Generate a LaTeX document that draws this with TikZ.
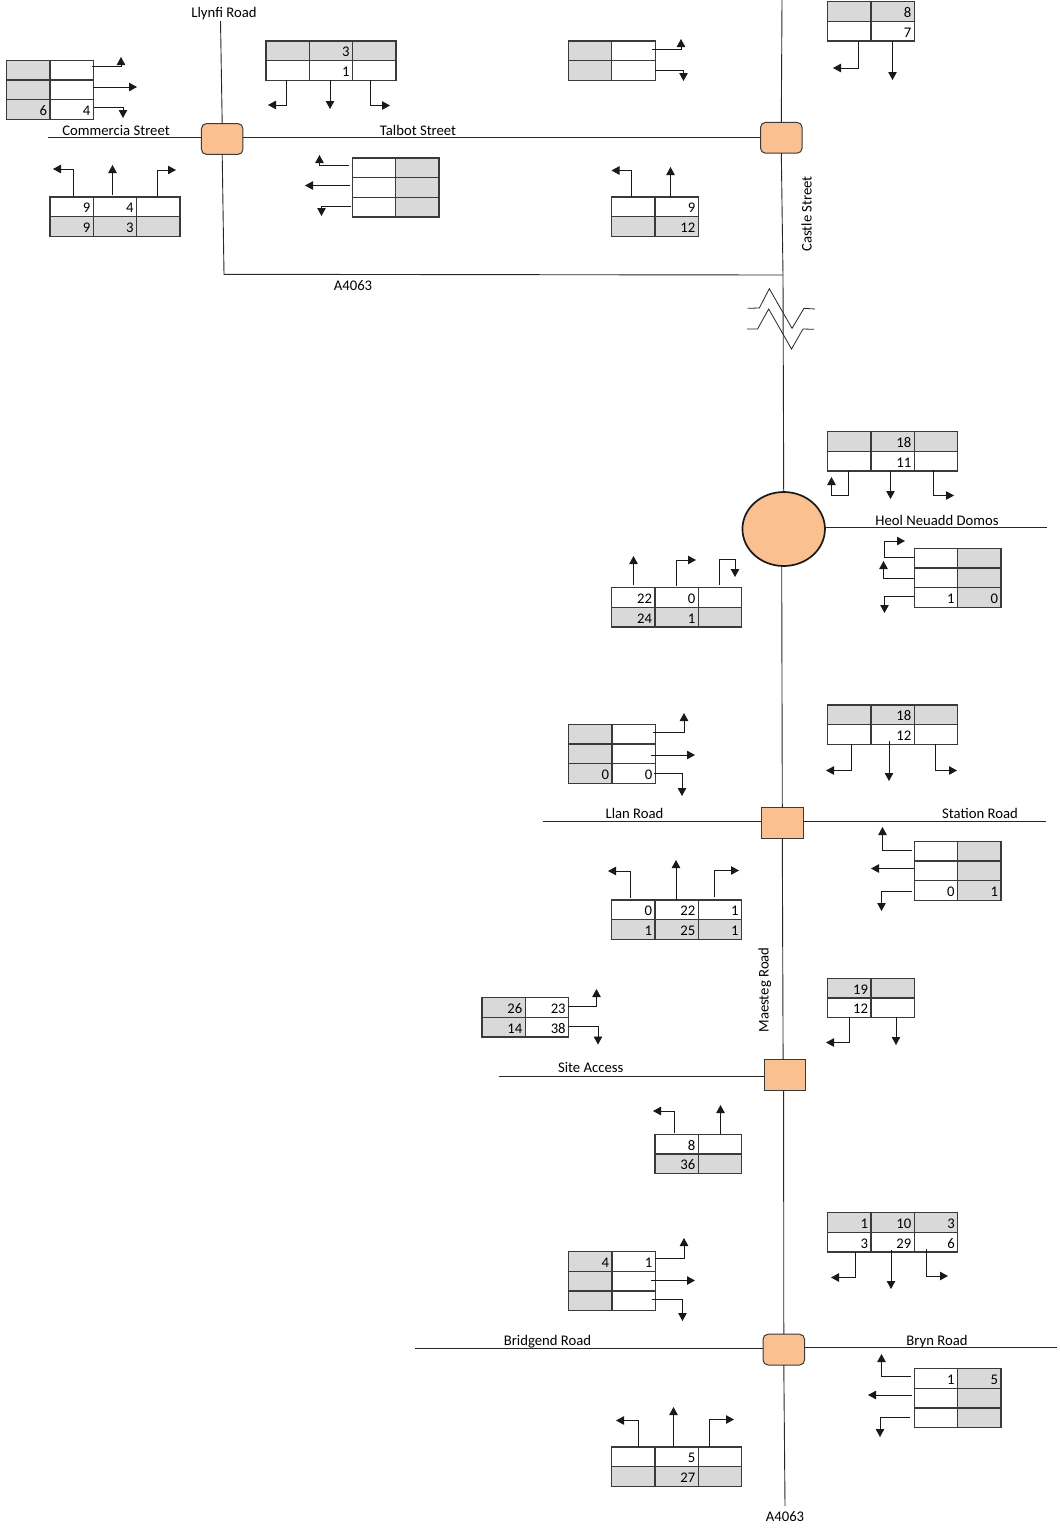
\documentclass[tikz,border=0pt]{standalone}
\usepackage{fontspec}
\setmainfont{Carlito}
\usetikzlibrary{arrows.meta,shapes.geometric}
\definecolor{cellgray}{HTML}{D9D9D9}
\definecolor{junc}{HTML}{FAC090}
\definecolor{edge}{HTML}{3A3A3A}
\colorlet{g}{cellgray}
\colorlet{w}{white}
\tikzset{
  road/.style={draw=black!85,line width=0.9pt},
  turnline/.style={draw=black!90,line width=0.9pt,-{Triangle[length=8pt,width=8.5pt]}},
  junction/.style={draw=edge,fill=junc,line width=1pt,minimum width=41.5pt,minimum height=30.8pt,inner sep=0pt,outer sep=0pt},
  rjunction/.style={junction,rounded corners=5pt},
  cellbox/.style={draw=edge,line width=1.25pt,anchor=north west,minimum width=43.33pt,minimum height=19.67pt,
     inner xsep=3pt,inner ysep=0pt,outer sep=0pt,text width=37.33pt,align=right,text height=12pt,text depth=0pt},
  lbl/.style={inner sep=0pt,outer sep=0pt,text height=10pt,text depth=3pt,font=\fontsize{14.7}{16}\selectfont},
}
\newcommand{\tbl}[4]{%
  \foreach \c/\r/\f/\t in {#4} {%
    \node[cellbox,fill=\f,font=\fontsize{14.7}{16}\selectfont] (#1-\c-\r) at ({#2+\c*43.33},{#3+\r*19.67}) {\t};
  }}
% arrows: named start and end coordinates
\newcommand{\arrS}[3]{\coordinate (#1s) at (#2);\coordinate (#1e) at (#3);\draw[turnline] (#1s) -- (#1e);}
\newcommand{\arrHV}[3]{\coordinate (#1s) at (#2);\coordinate (#1e) at (#3);\draw[turnline] (#1s) -| (#1e);}
\newcommand{\arrVH}[3]{\coordinate (#1s) at (#2);\coordinate (#1e) at (#3);\draw[turnline] (#1s) |- (#1e);}
\begin{document}
\begin{tikzpicture}[x=1pt,y=-1pt]
\useasboundingbox (0,0) rectangle (1060,1529);
% junctions
\node[rjunction] (j1) at (222.2,139) {};
\node[rjunction] (j2) at (781.3,137.8) {};
\node[ellipse,draw=black!90,fill=junc,line width=1.7pt,minimum width=82.5pt,minimum height=74pt,inner sep=0pt,outer sep=0pt] (j3) at (783.7,529) {};
\node[junction] (j4) at (782.3,823.3) {};
\node[junction] (j5) at (785.1,1075.2) {};
\node[rjunction] (j6) at (783.8,1349.6) {};
% free road ends
\coordinate (llynfi) at (220.5,21);
\coordinate (comm) at (48,137);
\coordinate (castletop) at (782,0);
\coordinate (corA) at (224,274.3);
\coordinate (corB) at (783,275);
\coordinate (heol) at (1047,527.5);
\coordinate (llan) at (543,821);
\coordinate (station) at (1046,821);
\coordinate (site) at (498.7,1076);
\coordinate (bridgend) at (415,1348);
\coordinate (bryn) at (1057,1347);
\coordinate (aend) at (785,1506);
% roads
\draw[road] (llynfi) -- (j1.north);
\draw[road] (comm) -- (j1.west |- comm);
\draw[road] (j1.east |- 0,137.5) -- (j2.west |- 0,137.5);
\draw[road] (castletop) -- (j2.north);
\draw[road] (j1.south) -- (corA) -- (corB);
\draw[road] (j2.south) -- (corB) -- (j3.north);
\draw[road] (j3.east |- heol) -- (heol);
\draw[road] (j3.south) ++(-2,0) -- (j4.north);
\draw[road] (llan) -- (j4.west |- llan);
\draw[road] (j4.east |- station) -- (station);
\draw[road] (j4.south) -- ([xshift=-2pt]j5.north);
\draw[road] (site) -- (j5.west |- site);
\draw[road] ([xshift=-1.5pt]j5.south) -- (j6.north);
\draw[road] (bridgend) -- (j6.west |- bridgend);
\draw[road] (j6.east |- bryn) -- (bryn);
\draw[road] (j6.south) -- (aend);
% road break symbol
\draw[line width=0.8pt,draw=black!85] (747.7,308.3) -- (759.3,308) -- (769.3,288.7) -- (792,328.3) -- (804,308.3) -- (815,309);
\draw[line width=0.8pt,draw=black!85] (747,329) -- (757.5,329) -- (768.7,309) -- (791.5,349) -- (803,329) -- (814,329.3);
% labels
\node[lbl] (l1) at (224,14) {Llynfi Road};
\node[lbl] (l2) at (116,131.5) {Commercia Street};
\node[lbl] (l3) at (418,131.5) {Talbot Street};
\node[lbl] (l4) at (353,287.3) {A4063};
\node[lbl,rotate=90] (l5) at (808,214) {Castle Street};
\node[lbl] (l6) at (937,521.5) {Heol Neuadd Domos};
\node[lbl] (l7) at (634.5,814.5) {Llan Road};
\node[lbl] (l8) at (980,814.5) {Station Road};
\node[lbl,rotate=90] (l9) at (765,990) {Maesteg Road};
\node[lbl] (l10) at (590.7,1068.5) {Site Access};
\node[lbl] (l11) at (547.5,1341.5) {Bridgend Road};
\node[lbl] (l12) at (937,1341.5) {Bryn Road};
\node[lbl] (l13) at (785,1517.5) {A4063};
% tables
\tbl{t1}{6.7}{60.3}{0/0/g/,1/0/w/,0/1/g/,1/1/w/,0/2/g/6,1/2/w/4}
\tbl{t2}{266}{41}{0/0/g/,1/0/g/3,2/0/g/,0/1/w/,1/1/w/1,2/1/w/}
\tbl{t3}{50}{197}{0/0/w/9,1/0/w/4,2/0/w/,0/1/g/9,1/1/g/3,2/1/g/}
\tbl{t4}{352.3}{158}{0/0/w/,1/0/g/,0/1/w/,1/1/g/,0/2/w/,1/2/g/}
\tbl{t5}{568.5}{41}{0/0/g/,1/0/w/,0/1/g/,1/1/w/}
\tbl{t6}{827.7}{1.6}{0/0/g/,1/0/g/8,0/1/w/,1/1/w/7}
\tbl{t7}{611.7}{197}{0/0/w/,1/0/w/9,0/1/g/,1/1/g/12}
\tbl{t8}{827.7}{431.6}{0/0/g/,1/0/g/18,2/0/g/,0/1/w/,1/1/w/11,2/1/w/}
\tbl{t9}{914.3}{548.3}{0/0/w/,1/0/g/,0/1/w/,1/1/g/,0/2/w/1,1/2/g/0}
\tbl{t10}{611.7}{587.7}{0/0/w/22,1/0/w/0,2/0/w/,0/1/g/24,1/1/g/1,2/1/g/}
\tbl{t11}{568.7}{724.3}{0/0/g/,1/0/w/,0/1/g/,1/1/w/,0/2/g/0,1/2/w/0}
\tbl{t12}{827.7}{705}{0/0/g/,1/0/g/18,2/0/g/,0/1/w/,1/1/w/12,2/1/w/}
\tbl{t13}{914.3}{841.3}{0/0/w/,1/0/g/,0/1/w/,1/1/g/,0/2/w/0,1/2/g/1}
\tbl{t14}{611.7}{900}{0/0/w/0,1/0/w/22,2/0/w/1,0/1/g/1,1/1/g/25,2/1/g/1}
\tbl{t15}{482}{997.7}{0/0/g/26,1/0/w/23,0/1/g/14,1/1/w/38}
\tbl{t16}{827.7}{978.3}{0/0/g/19,1/0/g/,0/1/w/12,1/1/w/}
\tbl{t17}{655}{1134.3}{0/0/w/8,1/0/w/,0/1/g/36,1/1/g/}
\tbl{t18}{827.7}{1212.7}{0/0/g/1,1/0/g/10,2/0/g/3,0/1/w/3,1/1/w/29,2/1/w/6}
\tbl{t19}{568.7}{1251.7}{0/0/g/4,1/0/w/1,0/1/g/,1/1/w/,0/2/g/,1/2/w/}
\tbl{t20}{914.3}{1368.7}{0/0/w/1,1/0/g/5,0/1/w/,1/1/g/,0/2/w/,1/2/g/}
\tbl{t21}{611.7}{1447}{0/0/w/,1/0/w/5,2/0/w/,0/1/g/,1/1/g/27,2/1/g/}
% turning arrows
\arrHV{a1}{92,66.5}{121,57}
\arrS{a2}{93,87}{137,87}
\arrHV{a3}{94,107}{123,118}
\arrVH{a4}{286.5,80}{268,105}
\arrS{a5}{330,80}{330,109}
\arrVH{a6}{370,80}{390,105.5}
\arrVH{a7}{73,196}{53,169}
\arrS{a8}{112.5,195}{112.5,165}
\arrVH{a9}{157,197}{176,170}
\arrHV{a10}{349,165}{319.5,155}
\arrS{a11}{350,185.5}{305,185.5}
\arrHV{a12}{351,206}{321.5,216}
\arrHV{a13}{652,49}{681,39}
\arrHV{a14}{655,70.5}{683.5,81}
\arrVH{a15}{858,41}{833,68}
\arrS{a16}{892.5,41}{892.5,80}
\arrVH{a17}{631,197}{611.5,170.5}
\arrS{a18}{670.5,197}{670.5,167}
\coordinate (a19s) at (848,470.5);\coordinate (a19m) at (831.5,495);\coordinate (a19e) at (831.5,477);
\draw[turnline] (a19s) |- (a19m) -- (a19e);
\arrS{a20}{890.5,471}{890.5,499}
\arrVH{a21}{933.5,470}{954,495.5}
\coordinate (a22s) at (914,557);\coordinate (a22m) at (884,541);\coordinate (a22e) at (905,541);
\draw[turnline] (a22s) -| (a22m) -- (a22e);
\arrHV{a23}{914,578}{883.5,561}
\arrHV{a24}{914,596.5}{884.5,613}
\arrS{a25}{633.5,585}{633.5,556}
\arrVH{a26}{676.5,586}{696,560}
\coordinate (a27s) at (719,585);\coordinate (a27m) at (735,559.5);\coordinate (a27e) at (735,577);
\draw[turnline] (a27s) |- (a27m) -- (a27e);
\arrHV{a28}{653,732.5}{684,713}
\arrS{a29}{651,755}{695,755}
\arrHV{a30}{654,773.5}{682,796}
\arrVH{a31}{851,744}{826,770.5}
\arrS{a32}{889,741}{889,781}
\arrVH{a33}{935.5,744}{957,770.5}
\arrHV{a34}{912,850}{882.5,827}
\arrS{a35}{914,868.5}{871,868.5}
\arrHV{a36}{912,891}{881.5,911}
\arrVH{a37}{630,898}{608,871}
\arrS{a38}{676,900}{676,860}
\arrVH{a39}{714.5,897}{739,870.5}
\arrHV{a40}{568,1006.5}{596.5,989}
\arrHV{a41}{569,1026.5}{598,1044.5}
\arrVH{a42}{849,1017}{826,1042.5}
\arrS{a43}{896,1017}{896,1045}
\arrVH{a44}{674.5,1133}{653,1111}
\arrS{a45}{720.5,1134}{720.5,1105}
\arrVH{a46}{855,1252}{831,1277.5}
\arrS{a47}{891,1250}{891,1289}
\arrVH{a48}{926.5,1249}{948,1276}
\arrHV{a49}{655,1258.5}{684,1238}
\arrS{a50}{651,1280.5}{695,1280.5}
\arrHV{a51}{652,1299.5}{682.5,1321}
\arrHV{a52}{911,1376}{881.5,1354}
\arrS{a53}{912,1395}{868,1395}
\arrHV{a54}{910,1417}{880,1437}
\arrVH{a55}{638,1447}{616,1420.5}
\arrS{a56}{673.5,1447}{673.5,1407}
\arrVH{a57}{709.5,1447}{734,1419.5}
\end{tikzpicture}
\end{document}
